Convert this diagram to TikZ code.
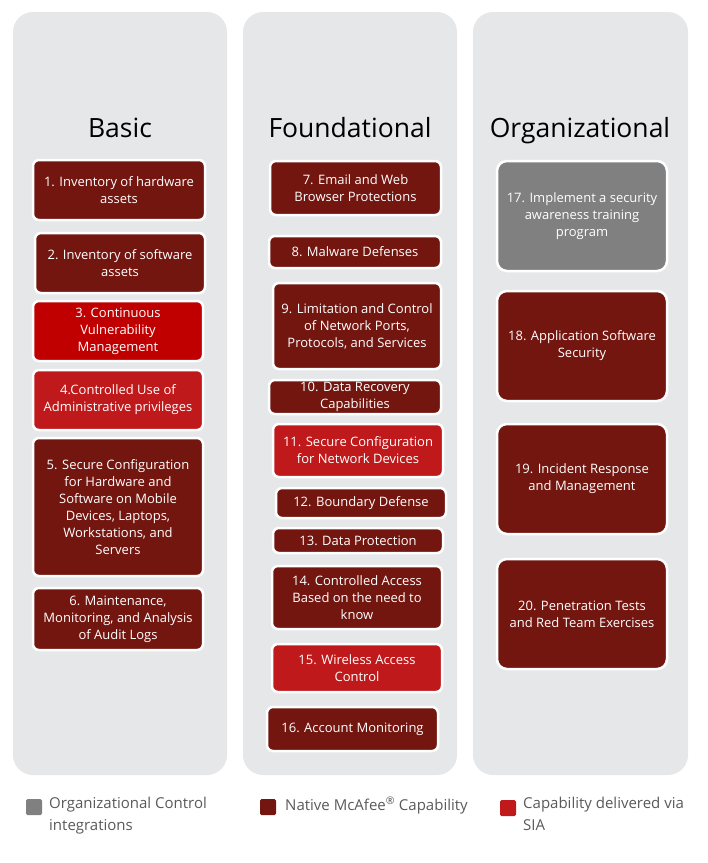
\documentclass[tikz,border=0pt]{standalone}
\usepackage{fontspec}
\setmainfont{Open Sans}
\definecolor{panelgray}{HTML}{E6E7E9}
\definecolor{native}{HTML}{731610}
\definecolor{sia}{HTML}{C0191C}
\definecolor{vuln}{HTML}{C00000}
\definecolor{orggray}{HTML}{808080}
\definecolor{legtext}{HTML}{595959}
\begin{document}
\begin{tikzpicture}[x=1pt,y=-1pt,
	panel/.style={fill=panelgray,rounded corners=20pt},
	title/.style={font=\fontsize{26.5}{30}\selectfont,text=black,anchor=base,inner sep=0pt},
	ctl/.style={draw=white,line width=2.5pt,rounded corners=6pt,text=white,align=center,
		font=\fontsize{13}{17}\selectfont,inner sep=0pt},
	key/.style={minimum size=16pt,inner sep=0pt,rounded corners=1.5pt},
	keytext/.style={text=legtext,font=\fontsize{15}{22}\selectfont,anchor=north west,align=left,inner sep=0pt}]
		\useasboundingbox (0,0) rectangle (708,863);
		\fill[panel] (13,12) rectangle (227,775);
		\fill[panel] (243,12) rectangle (457,775);
		\fill[panel] (473,12) rectangle (688,775);
		\node[title] (basic) at (120,137) {Basic};
		\node[title] (found) at (350,137) {Foundational};
		\node[title] (org) at (580,137) {Organizational};
		% Basic
		\node[ctl,fill=native,minimum width=172,minimum height=60] (b1) at (119,190) {1. Inventory of hardware\\assets};
		\node[ctl,fill=native,minimum width=170,minimum height=60] (b2) at (120,263) {2. Inventory of software\\assets};
		\node[ctl,fill=vuln,minimum width=170,minimum height=60] (b3) at (118,331) {3. Continuous\\Vulnerability\\Management};
		\node[ctl,fill=sia,minimum width=170,minimum height=60] (b4) at (118,400) {4.Controlled Use of\\Administrative privileges};
		\node[ctl,fill=native,minimum width=170,minimum height=138] (b5) at (118,507) {5. Secure Configuration\\for Hardware and\\Software on Mobile\\Devices, Laptops,\\Workstations, and\\Servers};
		\node[ctl,fill=native,minimum width=170,minimum height=62] (b6) at (118,619) {6. Maintenance,\\Monitoring, and Analysis\\of Audit Logs};
		% Foundational
		\node[ctl,fill=native,minimum width=171,minimum height=54] (b7) at (355.5,188) {7. Email and Web\\Browser Protections};
		\node[ctl,fill=native,minimum width=172,minimum height=32] (b8) at (355,252) {8. Malware Defenses};
		\node[ctl,fill=native,minimum width=168,minimum height=86] (b9) at (357,326) {9. Limitation and Control\\of Network Ports,\\Protocols, and Services};
		\node[ctl,fill=native,minimum width=172,minimum height=34] (b10) at (355,397) {10. Data Recovery\\Capabilities};
		\node[ctl,fill=sia,minimum width=170,minimum height=53] (b11) at (358,450.5) {11. Secure Configuration\\for Network Devices};
		\node[ctl,fill=native,minimum width=170,minimum height=30] (b12) at (361,503) {12. Boundary Defense};
		\node[ctl,fill=native,minimum width=170,minimum height=25] (b13) at (358,540.5) {13. Data Protection};
		\node[ctl,fill=native,minimum width=170,minimum height=63] (b14) at (357,597.5) {14. Controlled Access\\Based on the need to\\know};
		\node[ctl,fill=sia,minimum width=170,minimum height=48] (b15) at (357,668) {15. Wireless Access\\Control};
		\node[ctl,fill=native,minimum width=171,minimum height=44] (b16) at (352.5,729) {16. Account Monitoring};
		% Organizational
		\node[ctl,fill=orggray,rounded corners=10pt,minimum width=170,minimum height=110] (b17) at (582,216) {17. Implement a security\\awareness training\\program};
		\node[ctl,fill=native,rounded corners=10pt,minimum width=170,minimum height=110] (b18) at (582,346) {18. Application Software\\Security};
		\node[ctl,fill=native,rounded corners=10pt,minimum width=170,minimum height=110] (b19) at (582,479) {19. Incident Response\\and Management};
		\node[ctl,fill=native,rounded corners=10pt,minimum width=170,minimum height=110] (b20) at (582,614) {20. Penetration Tests\\and Red Team Exercises};
		% legend
		\node[key,fill=orggray] (korg) at (34,807) {};
		\node[keytext] (lorg) at (49,797) {Organizational Control\\integrations};
		\node[key,fill=native] (knat) at (268,807) {};
		\node[keytext] (lnat) at (285,797) {Native McAfee\textsuperscript{®} Capability};
		\node[key,fill=sia] (ksia) at (508,808) {};
		\node[keytext] (lsia) at (523,797) {Capability delivered via\\SIA};
\end{tikzpicture}
\end{document}
